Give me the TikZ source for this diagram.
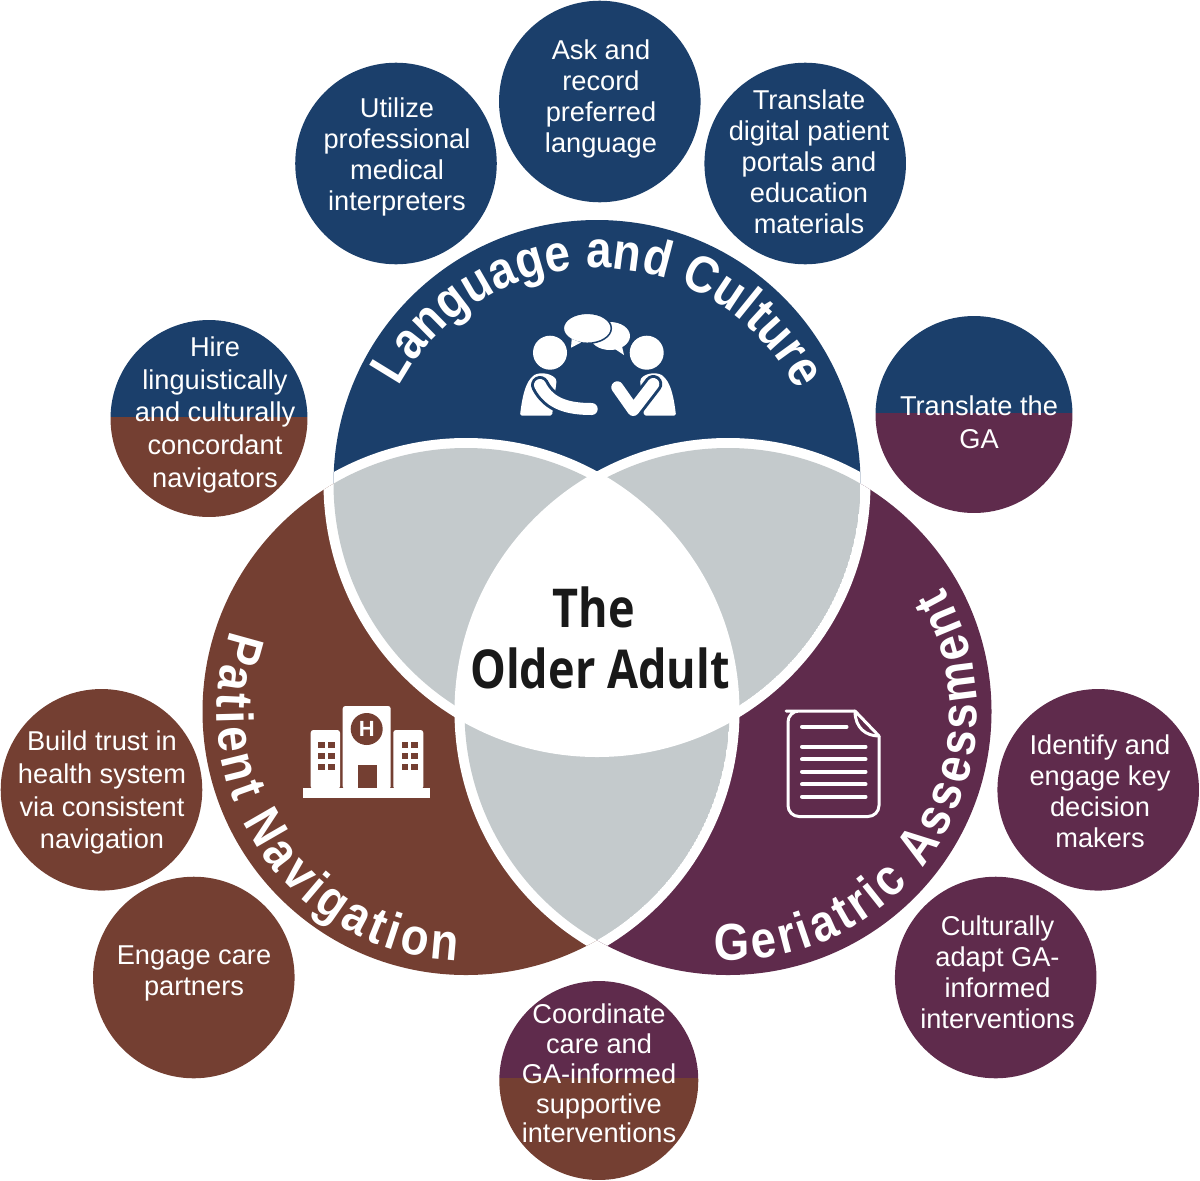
\documentclass[tikz,border=0pt]{standalone}
\usepackage{fontspec}
\setmainfont{Liberation Sans}
\newfontfamily\titlefont[FakeStretch=0.84]{Open Sans}
\newfontfamily\arcfont[FakeStretch=0.88]{Liberation Sans}
\usetikzlibrary{decorations.text}
\definecolor{navyblue}{HTML}{1B3F6B}
\definecolor{rustbrown}{HTML}{743F32}
\definecolor{plumred}{HTML}{5F2B4C}
\definecolor{lensgrey}{HTML}{C4CACC}
\begin{document}
\begin{tikzpicture}[
                x=0.02cm, y=-0.02cm,
                item/.style={circle, inner sep=0pt, minimum size=4.032cm},
                smallitem/.style={circle, inner sep=0pt, minimum size=3.94cm},
                itemtext/.style={inner sep=0pt, align=center, text=white, font=\fontsize{15.5}{#1}\selectfont},
                itemtext/.default=17.6,
                splitfill/.style n args={3}{path picture={
                    \fill[#1] (-110,-110) rectangle (110,#3);
                    \fill[#2] (-110,#3) rectangle (110,110);}},
                arctext/.style={decorate, decoration={text along path, text align={fit to path}, text={|\arcfont\fontsize{29.5}{30}\selectfont\bfseries\color{white}|#1}}},
                titletext/.style={inner sep=0pt, text=black!90, font=\titlefont\fontsize{30.5}{34}\selectfont\bfseries},
                iconline/.style={white, line cap=round, line join=round}
            ]
                \useasboundingbox (0,0) rectangle (1200,1180);

                \coordinate (lang) at (597,483.5);
                \coordinate (nav) at (466,711.5);
                \coordinate (ger) at (728,711.5);

                \fill[navyblue] (lang) circle[radius=263.5];
                \fill[rustbrown] (nav) circle[radius=263.5];
                \fill[plumred] (ger) circle[radius=263.5];

                \foreach \a/\b in {lang/nav, lang/ger, nav/lang, nav/ger, ger/lang, ger/nav}{
                    \begin{scope}
                        \clip (\a) circle[radius=263.5];
                        \fill[white] (\b) circle[radius=273.5];
                    \end{scope}
                }
                \foreach \a/\b in {lang/nav, lang/ger, nav/ger}{
                    \begin{scope}
                        \clip (\a) circle[radius=263.5];
                        \clip (\b) circle[radius=263.5];
                        \fill[lensgrey] (\a) circle[radius=263.5];
                    \end{scope}
                }
                \begin{scope}
                    \clip (lang) circle[radius=273.5];
                    \clip (nav) circle[radius=273.5];
                    \fill[white] (ger) circle[radius=273.5];
                \end{scope}

                \node[titletext] (the) at (594,607) {The};
                \node[titletext] (older) at (600,668) {Older Adult};

                \path[arctext={Language and Culture}] (597,492) ++(-152:224) arc[start angle=-152, end angle=-27, radius=224];
                \path[arctext={Patient Navigation}] (466,711.5) ++(-161:249) arc[start angle=-161, end angle=-268, radius=249];
                \path[arctext={Geriatric Assessment}] (728,711.5) ++(93:249) arc[start angle=93, end angle=-30, radius=249];

                \node[item, fill=navyblue] (utilize) at (396,163.5) {};
                \node[item, fill=navyblue] (ask) at (599.8,101.5) {};
                \node[item, fill=navyblue] (portals) at (805.2,163.5) {};
                \node[smallitem, splitfill={navyblue}{rustbrown}{-1.5}] (hire) at (209,418.5) {};
                \node[smallitem, splitfill={navyblue}{plumred}{-1.8}] (translate) at (974,414.5) {};
                \node[item, fill=rustbrown] (trust) at (101.5,789.8) {};
                \node[item, fill=rustbrown] (partners) at (193.8,977.5) {};
                \node[smallitem, minimum size=3.98cm, splitfill={plumred}{rustbrown}{-2.5}] (coordinate) at (598.8,1080.5) {};
                \node[item, fill=plumred] (identify) at (1098.2,789.8) {};
                \node[item, fill=plumred] (adapt) at (995.7,977.5) {};

                \node[itemtext] (utilizetext) at (397,157) {Utilize\\professional\\medical\\interpreters};
                \node[itemtext] (asktext) at (601,99) {Ask and\\record\\preferred\\language};
                \node[itemtext] (portalstext) at (809,162) {Translate\\digital patient\\portals and\\education\\materials};
                \node[itemtext=18.6] (hiretext) at (215,414.8) {Hire\\linguistically\\and culturally\\concordant\\navigators};
                \node[itemtext=18.6] (translatetext) at (979,422) {Translate the\\GA};
                \node[itemtext=18.6] (trusttext) at (102,792.8) {Build trust in\\health system\\via consistent\\navigation};
                \node[itemtext] (partnerstext) at (194,973) {Engage care\\partners};
                \node[itemtext=17] (coordinatetext) at (599,1073.5) {Coordinate\\care and\\GA-informed\\supportive\\interventions};
                \node[itemtext] (identifytext) at (1100,791.5) {Identify and\\engage key\\decision\\makers};
                \node[itemtext] (adapttext) at (997.5,972.5) {Culturally\\adapt GA-\\informed\\interventions};

                % speech icon
                \fill[white] (550,352.7) circle[radius=17];
                \fill[white] (646.7,352.7) circle[radius=17];
                \fill[white] (610,336) ellipse[x radius=20, y radius=14];
                \fill[white] (615,349) -- (624,355) -- (621.7,345) -- cycle;
                \draw[navyblue, fill=white, line width=0.03cm] (587.3,328.3) ellipse[x radius=24, y radius=15];
                \fill[white] (571.7,339) -- (571,347.7) -- (581,342.5) -- cycle;
                \fill[white, rounded corners=1] (520,415.7) .. controls (522,398) and (525,385) .. (531.7,377.3) .. controls (537,372) and (550,372) .. (556.7,380) -- (552,415.7) -- cycle;
                \fill[white, rounded corners=1] (676,415.7) .. controls (674,398) and (671,385) .. (664.3,377.3) .. controls (659,372) and (646,372) .. (640,380) -- (644,415.7) -- cycle;
                \draw[navyblue, line width=0.36cm, line cap=round] (540,385) .. controls (550,405) and (570,409) .. (591.7,409);
                \draw[iconline, line width=0.24cm] (540,385) .. controls (550,405) and (570,409) .. (591.7,409);
                \draw[navyblue, line width=0.36cm, line cap=round, line join=round] (617.3,387.3) -- (633.3,410) -- (653.3,384);
                \draw[iconline, line width=0.24cm] (617.3,387.3) -- (633.3,410) -- (653.3,384);

                % hospital icon
                \fill[white] (303.3,788.3) rectangle (430,797.7);
                \fill[white, rounded corners=1.5] (342.7,789) -- (342.7,706) -- (390.7,706) -- (390.7,789) -- cycle;
                \fill[white, rounded corners=1.5] (310.7,789) -- (310.7,730) -- (340,730) -- (340,789) -- cycle;
                \fill[white, rounded corners=1.5] (393.3,789) -- (393.3,730) -- (423.3,730) -- (423.3,789) -- cycle;
                \fill[rustbrown] (358.3,765) rectangle (376.7,788.3);
                \node[circle, fill=rustbrown, minimum size=0.64cm, inner sep=0pt, text=white, font=\fontsize{12.5}{12.5}\selectfont\bfseries] (hsign) at (366.7,729) {H};
                \foreach \wx in {318.3, 328.3, 401.7, 411.3}
                    \foreach \wy in {741.7, 752.7, 764}
                        \fill[rustbrown] (\wx,\wy) rectangle ++(6.2,6.2);

                % document icon
                \draw[iconline, line width=0.06cm, rounded corners=0.22cm] (855,711) -- (797,711) -- (788,711) -- (788,816.5) -- (879,816.5) -- (879,736);
                \draw[iconline, line width=0.06cm] (855,711) -- (879,736) .. controls (866,736) and (855,728) .. (855,711);
                \foreach \ly in {746.7, 759.3, 771.7, 784.3, 796.7}
                    \draw[iconline, line width=0.08cm] (802,\ly) -- (865.5,\ly);
                \draw[iconline, line width=0.08cm] (802,726.7) -- (846.5,726.7);
            \end{tikzpicture}
\end{document}
